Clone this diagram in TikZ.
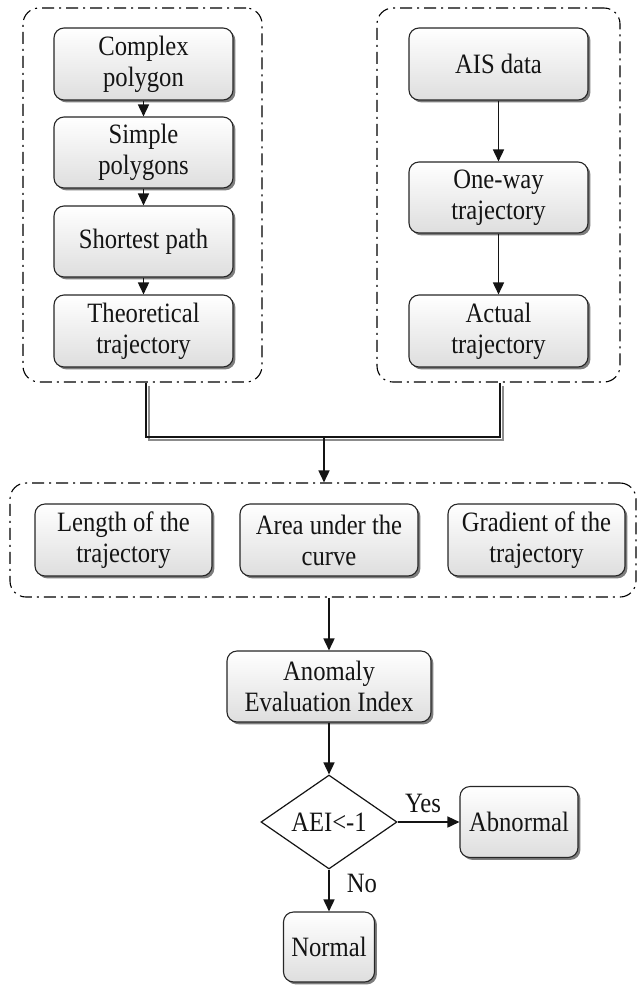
\documentclass[tikz,border=0pt]{standalone}
\usepackage{fontspec}
\setmainfont[FakeStretch=0.88]{Liberation Serif}
\usetikzlibrary{arrows.meta,shapes.geometric,shadows}
\newcommand\myfs{\fontsize{28}{31}\selectfont}
\tikzset{
  proc/.style={draw=black!85, line width=1.1pt, rounded corners=10pt,
    top color=white, bottom color=black!13,
    drop shadow={shadow xshift=2.4pt, shadow yshift=-2.4pt, fill=black!60, opacity=0.85},
    minimum height=72pt, align=center, inner sep=0pt, font=\myfs, text=black!92},
  grp/.style={draw=black, line width=1.1pt, dash pattern=on 12pt off 5pt on 2pt off 5pt,
    rounded corners=16pt, inner sep=0pt},
  arr/.style={-{Triangle[length=12pt,width=11pt]}, line width=1.6pt, black!92},
  lbl/.style={font=\myfs, text=black!92, inner sep=0pt}
}
\begin{document}
\begin{tikzpicture}[x=1pt,y=-1pt]
\useasboundingbox (0,0) rectangle (638,986);
% groups
\node[grp, minimum width=239pt, minimum height=374pt] (gl) at (142.5,195) {};
\node[grp, minimum width=243pt, minimum height=374pt] (gr) at (498.5,195) {};
\node[grp, minimum width=626pt, minimum height=114pt] (gm) at (323,540) {};
% left column
\node[proc, minimum width=179pt] (c1) at (143.5,64) {Complex\\polygon};
\node[proc, minimum width=179pt, minimum height=71pt] (c2) at (143.5,152.5) {Simple\\polygons};
\node[proc, minimum width=179pt, minimum height=71pt] (c3) at (143.5,241.5) {Shortest path};
\node[proc, minimum width=179pt] (c4) at (143.5,331) {Theoretical\\trajectory};
% right column
\node[proc, minimum width=179pt] (r1) at (498.5,64) {AIS data};
\node[proc, minimum width=179pt, minimum height=71pt] (r2) at (498.5,197.5) {One-way\\trajectory};
\node[proc, minimum width=179pt] (r3) at (498.5,331) {Actual\\trajectory};
% middle row
\node[proc, minimum width=177pt] (m1) at (123.5,540) {Length of the\\trajectory};
\node[proc, minimum width=178pt] (m2) at (329,540) {Area under the\\curve};
\node[proc, minimum width=177pt] (m3) at (536.5,540) {Gradient of the\\trajectory};
% lower
\node[proc, minimum width=204pt, minimum height=71pt] (aei) at (329,686.5) {Anomaly\\Evaluation Index};
\node[draw=black!92, line width=1.2pt, diamond, fill=white, minimum width=136pt, minimum height=70pt,
  inner sep=0pt, font=\myfs, text=black!92] (dia) at (329,822) {AEI<-1};
\node[proc, minimum width=118pt, minimum height=71pt] (abn) at (519,822) {Abnormal};
\node[proc, minimum width=91pt, minimum height=70pt] (nor) at (329,947) {Normal};
% arrows
\draw[arr] (c1) -- (c2);
\draw[arr] (c2) -- (c3);
\draw[arr] (c3) -- (c4);
\draw[arr] (r1) -- (r2);
\draw[arr] (r2) -- (r3);
% merge connector
\coordinate (ja) at ([xshift=3.5pt]gl.south);
\coordinate (jb) at ([xshift=1.5pt]gr.south);
\coordinate (j) at (324,437);
\draw[line width=1.1pt, black!45, transform canvas={xshift=3pt,yshift=-3pt}] (ja) |- (j) -| (jb);
\draw[line width=1.4pt, black!92] (ja) |- (j) -| (jb);
\draw[arr] (j) -- (j |- gm.north);
\draw[arr] (gm.south -| aei.north) -- (aei.north);
\draw[arr] (aei) -- (dia);
\draw[arr] (dia.east) -- (abn.west);
\draw[arr] (dia) -- (nor);
\node[lbl] (yes) at (423,803) {Yes};
\node[lbl] (no) at (362,883) {No};
\end{tikzpicture}
\end{document}
